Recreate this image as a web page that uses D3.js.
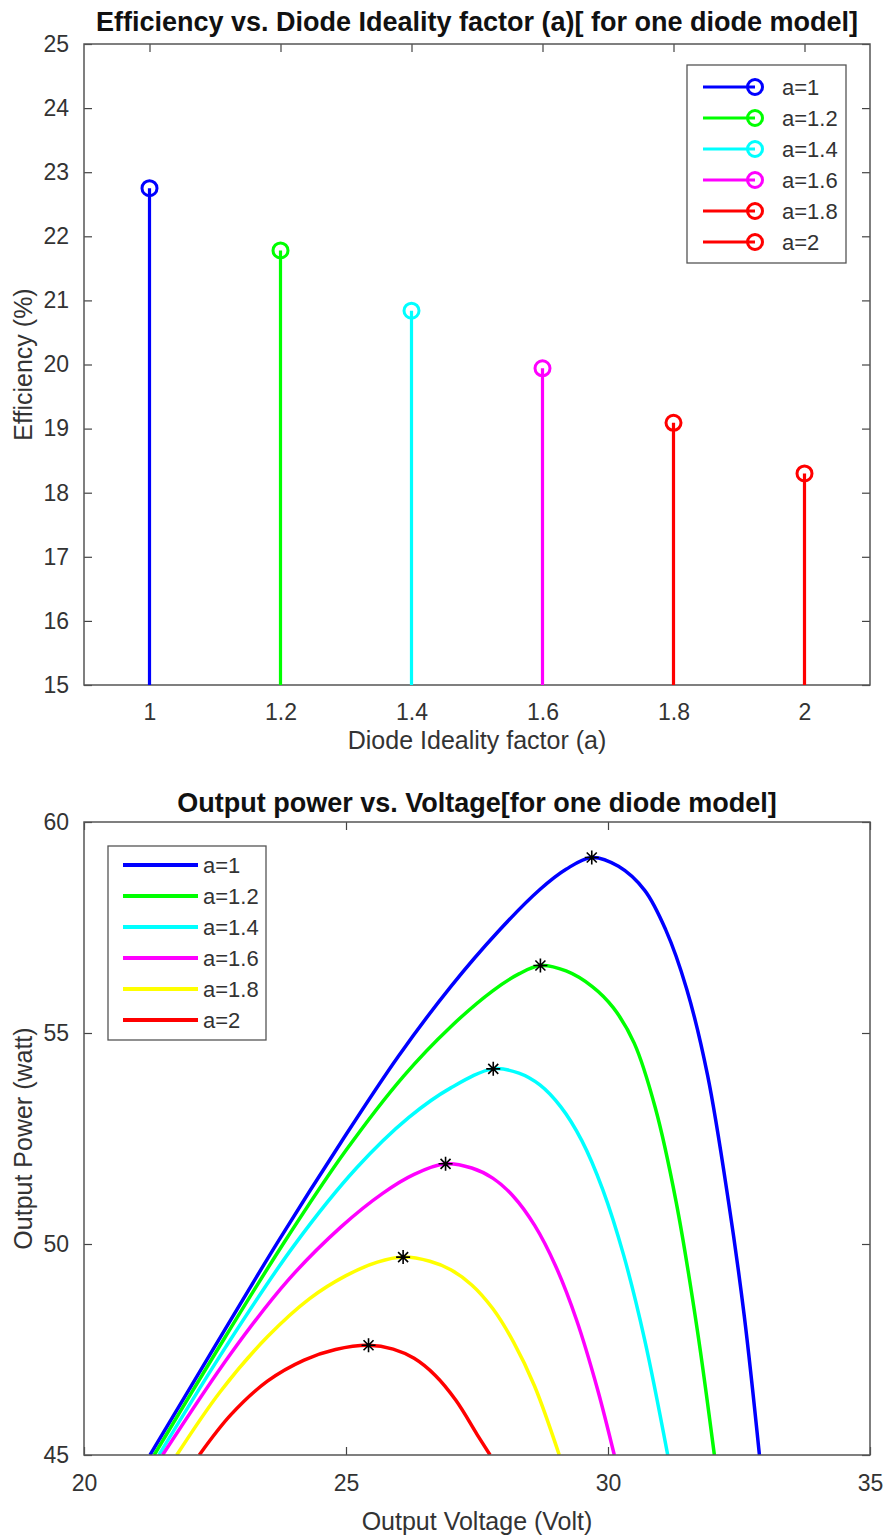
<!DOCTYPE html>
<html>
  <head>
    <meta charset="utf-8">
    <title>Efficiency and output power vs diode ideality factor</title>
    <script src="https://cdn.jsdelivr.net/npm/d3@7"></script>
    <style>
      body { margin: 0; background: #fff; }
      svg { display: block; font-family: "Liberation Sans", Arial, Helvetica, sans-serif; }
      .tick text { fill: #333; font-size: 23px; }
      .tick line { stroke: #444; stroke-width: 1.2; }
      .box { fill: none; stroke: #555; stroke-width: 1.5; }
      .title { font-weight: bold; font-size: 27px; fill: #111; text-anchor: middle; }
      .label { font-size: 25px; fill: #333; text-anchor: middle; }
      .legend rect { fill: #fff; stroke: #555; stroke-width: 1.3; }
      .legend text { font-size: 22px; fill: #333; }
    </style>
  </head>
  <body>
    <svg id="chart" width="890" height="1537"></svg>
    <script>
      // ---- top panel: efficiency for each ideality factor
      const idealityFactors = [1, 1.2, 1.4, 1.6, 1.8, 2];
      const efficiency = [22.75, 21.78, 20.84, 19.94, 19.09, 18.30];
      const stemColours = ["#0000ff", "#00ff00", "#00ffff", "#ff00ff", "#ff0000", "#ff0000"];
      const seriesNames = ["a=1", "a=1.2", "a=1.4", "a=1.6", "a=1.8", "a=2"];
      const effTicksX = [1, 1.2, 1.4, 1.6, 1.8, 2];
      const effTicksY = [15, 16, 17, 18, 19, 20, 21, 22, 23, 24, 25];

      // ---- bottom panel: P-V curves, [voltage, power]
      const curveColours = ["#0000ff", "#00ff00", "#00ffff", "#ff00ff", "#ffff00", "#ff0000"];
      const pvA1 = [[21.26, 45], [22.5, 47.58], [23.7, 50.05], [24.9, 52.4], [26.0, 54.45], [27.0, 56.1], [27.9, 57.4], [28.7, 58.4], [29.2, 58.88], [29.69, 59.16], [30.2, 58.95], [30.7, 58.38], [31.1, 57.45], [31.5, 56.05], [31.9, 54.0], [32.3, 51.0], [32.6, 48.3], [32.89, 45]];
      const pvA12 = [[21.34, 45], [22.55, 47.5], [23.8, 50.0], [25.0, 52.22], [26.1, 53.98], [27.0, 55.15], [27.8, 56.0], [28.3, 56.4], [28.71, 56.6], [29.2, 56.47], [29.7, 56.1], [30.1, 55.6], [30.5, 54.76], [30.9, 53.24], [31.3, 51.0], [31.7, 48.0], [32.03, 45]];
      const pvA14 = [[21.43, 45], [22.7, 47.55], [24.0, 49.95], [25.2, 51.8], [26.2, 53.0], [27.0, 53.7], [27.81, 54.15], [28.3, 54.05], [28.7, 53.77], [29.1, 53.25], [29.5, 52.45], [29.9, 51.29], [30.3, 49.73], [30.7, 47.73], [31.14, 45]];
      const pvA16 = [[21.5, 45], [22.8, 47.4], [23.9, 49.15], [24.9, 50.4], [25.7, 51.2], [26.3, 51.65], [26.9, 51.9], [27.4, 51.8], [27.8, 51.56], [28.2, 51.12], [28.6, 50.44], [29.0, 49.48], [29.4, 48.2], [29.8, 46.56], [30.12, 45]];
      const pvA18 = [[21.77, 45], [22.6, 46.5], [23.5, 47.8], [24.3, 48.7], [25.0, 49.25], [25.6, 49.57], [26.09, 49.69], [26.6, 49.59], [27.0, 49.39], [27.4, 49.03], [27.8, 48.47], [28.2, 47.67], [28.6, 46.63], [29.07, 45]];
      const pvA2 = [[22.2, 45], [22.8, 45.95], [23.5, 46.75], [24.2, 47.25], [24.8, 47.5], [25.43, 47.6], [25.9, 47.51], [26.3, 47.29], [26.7, 46.89], [27.1, 46.29], [27.5, 45.49], [27.75, 45]];
      const pvCurves = [pvA1, pvA12, pvA14, pvA16, pvA18, pvA2];
      // maximum power points (stars)
      const mppVoltage = [29.69, 28.71, 27.81, 26.9, 26.09, 25.43];
      const mppPower = [59.16, 56.6, 54.15, 51.9, 49.69, 47.6];
      const pvTicksX = [20, 25, 30, 35];
      const pvTicksY = [45, 50, 55, 60];

      const svg = d3.select("#chart");
      const left = 84, right = 870;

      function drawFrame(g, x, y, xTicks, yTicks, fmt, h, w, padX) {
        g.append("g")
          .attr("transform", "translate(0," + h + ")")
          .call(d3.axisBottom(x).tickValues(xTicks).tickSize(-8).tickPadding(padX).tickFormat(fmt));
        g.append("g")
          .call(d3.axisTop(x).tickValues(xTicks).tickSize(-8).tickFormat(""));
        g.append("g")
          .call(d3.axisLeft(y).tickValues(yTicks).tickSize(-8).tickPadding(15).tickFormat(fmt));
        g.append("g")
          .attr("transform", "translate(" + w + ",0)")
          .call(d3.axisRight(y).tickValues(yTicks).tickSize(-8).tickFormat(""));
        g.selectAll(".domain").remove();
        g.selectAll(".tick text").attr("font-size", null).attr("font-family", null);
        g.append("rect")
          .attr("class", "box")
          .attr("width", w)
          .attr("height", h);
      }

      // ================= top panel
      const topY0 = 44, topY1 = 685;
      const g1 = svg.append("g").attr("transform", "translate(" + left + "," + topY0 + ")");
      const w = right - left, h1 = topY1 - topY0;
      const x1 = d3.scaleLinear().domain([0.9, 2.1]).range([0, w]);
      const y1 = d3.scaleLinear().domain([15, 25]).range([h1, 0]);

      drawFrame(g1, x1, y1, effTicksX, effTicksY, d3.format("~g"), h1, w, 19);

      const stems = g1.selectAll(".stem")
        .data(idealityFactors)
        .enter().append("g")
          .attr("class", "stem");
      stems.append("line")
        .attr("x1", function(d) { return x1(d); })
        .attr("x2", function(d) { return x1(d); })
        .attr("y1", y1(15))
        .attr("y2", function(d, i) { return y1(efficiency[i]); })
        .attr("stroke", function(d, i) { return stemColours[i]; })
        .attr("stroke-width", 3.2);
      stems.append("circle")
        .attr("cx", function(d) { return x1(d); })
        .attr("cy", function(d, i) { return y1(efficiency[i]); })
        .attr("r", 7.5)
        .attr("fill", "none")
        .attr("stroke", function(d, i) { return stemColours[i]; })
        .attr("stroke-width", 3);

      svg.append("text").attr("class", "title")
        .attr("x", left + w / 2).attr("y", 31)
        .text("Efficiency vs. Diode Ideality factor (a)[ for one diode model]");
      svg.append("text").attr("class", "label")
        .attr("x", left + w / 2).attr("y", 749)
        .text("Diode Ideality factor (a)");
      svg.append("text").attr("class", "label")
        .attr("transform", "translate(32," + (topY0 + h1 / 2) + ") rotate(-90)")
        .text("Efficiency (%)");

      // legend (top)
      const leg1 = svg.append("g").attr("class", "legend");
      leg1.append("rect").attr("x", 687).attr("y", 65).attr("width", 159).attr("height", 198);
      const items1 = leg1.selectAll(".item")
        .data(seriesNames)
        .enter().append("g")
          .attr("transform", function(d, i) { return "translate(0," + (87 + i * 31) + ")"; });
      items1.append("line")
        .attr("x1", 703).attr("x2", 755)
        .attr("stroke", function(d, i) { return stemColours[i]; })
        .attr("stroke-width", 3.2);
      items1.append("circle")
        .attr("cx", 755).attr("r", 7.5)
        .attr("fill", "none")
        .attr("stroke", function(d, i) { return stemColours[i]; })
        .attr("stroke-width", 3);
      items1.append("text")
        .attr("x", 782).attr("dy", "0.35em")
        .text(function(d) { return d; });

      // ================= bottom panel
      const botY0 = 822, botY1 = 1455;
      const h2 = botY1 - botY0;
      const g2 = svg.append("g").attr("transform", "translate(" + left + "," + botY0 + ")");
      const x2 = d3.scaleLinear().domain([20, 35]).range([0, w]);
      const y2 = d3.scaleLinear().domain([45, 60]).range([h2, 0]);

      g2.append("clipPath").attr("id", "plotClip")
        .append("rect").attr("width", w).attr("height", h2);

      const line = d3.line()
        .x(function(d) { return x2(d[0]); })
        .y(function(d) { return y2(d[1]); })
        .curve(d3.curveCatmullRom.alpha(0.5));

      g2.append("g")
        .attr("clip-path", "url(#plotClip)")
        .selectAll(".pv")
          .data(pvCurves)
        .enter().append("path")
          .attr("class", "pv")
          .attr("d", line)
          .attr("fill", "none")
          .attr("stroke", function(d, i) { return curveColours[i]; })
          .attr("stroke-width", 3.5);

      // asterisk markers at the maximum power points
      const star = "M0,-7V7M-7,0H7M-5,-5L5,5M-5,5L5,-5";
      g2.selectAll(".mpp")
        .data(mppVoltage)
        .enter().append("path")
          .attr("class", "mpp")
          .attr("transform", function(d, i) { return "translate(" + x2(d) + "," + y2(mppPower[i]) + ")"; })
          .attr("d", star)
          .attr("stroke", "#000")
          .attr("stroke-width", 1.6)
          .attr("fill", "none");

      drawFrame(g2, x2, y2, pvTicksX, pvTicksY, d3.format("~g"), h2, w, 20);

      svg.append("text").attr("class", "title")
        .attr("x", left + w / 2).attr("y", 812)
        .text("Output power vs. Voltage[for one diode model]");
      svg.append("text").attr("class", "label")
        .attr("x", left + w / 2).attr("y", 1530)
        .text("Output Voltage (Volt)");
      svg.append("text").attr("class", "label")
        .attr("transform", "translate(32," + (botY0 + h2 / 2) + ") rotate(-90)")
        .text("Output Power (watt)");

      // legend (bottom)
      const leg2 = svg.append("g").attr("class", "legend");
      leg2.append("rect").attr("x", 108).attr("y", 846).attr("width", 158).attr("height", 194);
      const items2 = leg2.selectAll(".item")
        .data(seriesNames)
        .enter().append("g")
          .attr("transform", function(d, i) { return "translate(0," + (865 + i * 31) + ")"; });
      items2.append("line")
        .attr("x1", 123).attr("x2", 198)
        .attr("stroke", function(d, i) { return curveColours[i]; })
        .attr("stroke-width", 4);
      items2.append("text")
        .attr("x", 203).attr("dy", "0.35em")
        .text(function(d) { return d; });
    </script>
  </body>
</html>
